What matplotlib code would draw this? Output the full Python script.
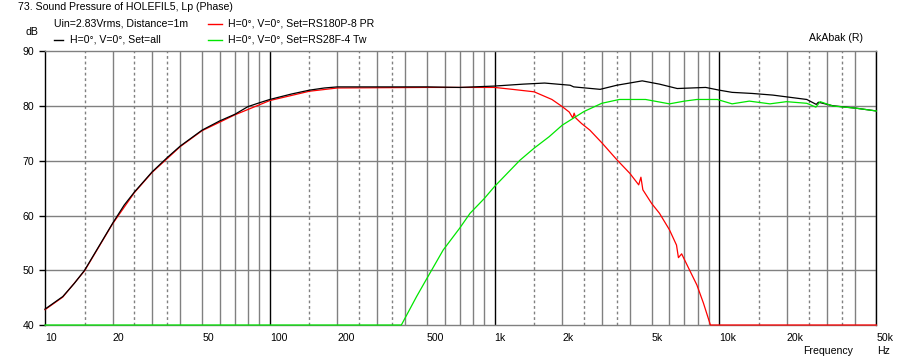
import numpy as np
import matplotlib
matplotlib.use('Agg')
import matplotlib.pyplot as plt

plt.rcParams['font.family'] = ['Liberation Sans', 'DejaVu Sans']
plt.rcParams['font.size'] = 7.6

# Set=all (black)
f_all = [10, 12, 13.5, 15, 17.5, 20, 22.5, 25, 30, 35, 40, 50, 60, 70, 80, 90, 100,
         125, 150, 175, 200, 300, 500, 700, 1000, 1340, 1670, 2170, 2250, 2950, 3500,
         4540, 5420, 6500, 8700, 10000, 11400, 14000, 17300, 24500, 27000, 27600,
         32000, 40700, 50000]
db_all = [42.9, 45.2, 47.6, 50.0, 54.6, 58.6, 61.9, 64.3, 68.0, 70.6, 72.7, 75.6, 77.3,
          78.5, 79.9, 80.6, 81.2, 82.2, 82.9, 83.3, 83.5, 83.5, 83.5, 83.4, 83.65, 84.0,
          84.2, 83.8, 83.5, 83.05, 83.8, 84.6, 84.0, 83.2, 83.4, 82.9, 82.5, 82.3, 82.0,
          81.2, 80.3, 80.7, 80.05, 79.6, 79.1]

# Set=RS180P-8 PR (red)
f_pr = [10, 12, 15, 20, 25, 30, 40, 50, 70, 100, 150, 200, 500, 900, 1000, 1200, 1500,
        1800, 2000, 2150, 2230, 2260, 2300, 2440, 2655, 3000, 3500, 4000, 4380, 4480,
        4570, 5000, 5420, 6000, 6450, 6580, 6800, 7300, 7950, 8500, 9130, 9500, 10000,
        20000, 50000]
db_pr = [42.8, 45.1, 49.9, 58.5, 64.2, 67.9, 72.6, 75.5, 78.4, 81.0, 82.7, 83.3, 83.4,
         83.4, 83.4, 83.05, 82.6, 81.2, 79.9, 78.9, 77.8, 78.7, 77.8, 76.8, 75.6, 73.3,
         70.2, 67.7, 65.6, 67.0, 64.7, 62.2, 60.4, 57.4, 54.6, 52.3, 53.0, 50.4, 47.3,
         44.0, 40.0, 37.5, 34.0, 20.0, 10.0]

# Set=RS28F-4 Tw (green)
f_tw = [10, 200, 385, 450, 500, 591, 700, 778, 900, 1000, 1297, 1500, 1750, 2000, 2500,
        3000, 3500, 3600, 4700, 6000, 7000, 7950, 9800, 11400, 13600, 16800, 19900,
        24500, 26900, 28100, 32000, 40700, 50000]
db_tw = [5.0, 28.0, 40.0, 45.2, 48.5, 53.7, 57.7, 60.4, 63.1, 65.3, 70.1, 72.3, 74.4,
         76.5, 79.0, 80.5, 81.1, 81.2, 81.2, 80.4, 80.9, 81.2, 81.2, 80.4, 80.9, 80.4,
         80.8, 80.5, 79.8, 80.8, 80.0, 79.6, 79.1]

xtick_vals = [10, 20, 50, 100, 200, 500, 1000, 2000, 5000, 10000, 20000, 50000]
xtick_labels = ['10', '20', '50', '100', '200', '500', '1k', '2k', '5k', '10k', '20k', '50k']
ytick_vals = [40, 50, 60, 70, 80, 90]

W, H = 899, 363
fig = plt.figure(figsize=(W / 100, H / 100), dpi=100)
ax = fig.add_axes([45 / W, 1 - 325 / H, (876.4 - 45) / W, (325 - 51.3) / H])
ax.set_xscale('log')
ax.set_xlim(10, 50000)
ax.set_ylim(40, 90)

grey = '#808080'
green = '#00e600'
# vertical grid
for dec in [10, 100, 1000, 10000]:
    for m in range(2, 10):
        ax.axvline(dec * m, color=grey, lw=1.0, zorder=1)
    for m in [1.5, 2.5, 3.5]:
        ax.axvline(dec * m, color=grey, lw=1.0, ls=(0, (2, 2)), zorder=1)
for dec in [100, 1000, 10000]:
    ax.axvline(dec, color='black', lw=1.0, zorder=1.5)
for y in [50, 60, 70, 80]:
    ax.axhline(y, color=grey, lw=1.0, zorder=1)

def clip(v):
    return np.clip(np.array(v), 40, 90)

ax.plot(f_pr, clip(db_pr), color='#ff0000', lw=0.9, zorder=3, clip_on=False)
ax.plot(f_all, clip(db_all), color='black', lw=0.9, zorder=4, clip_on=False)
ax.plot(f_tw, clip(db_tw), color=green, lw=0.9, zorder=5, clip_on=False)

for s in ['left', 'right']:
    ax.spines[s].set_color('black')
    ax.spines[s].set_linewidth(1.0)
for s in ['top', 'bottom']:
    ax.spines[s].set_color(grey)
    ax.spines[s].set_linewidth(1.0)

ax.set_xticks(xtick_vals)
ax.set_xticklabels(xtick_labels, ha='left')
ax.xaxis.set_minor_locator(matplotlib.ticker.NullLocator())
ax.tick_params(axis='x', length=0, pad=6)
ax.set_yticks(ytick_vals)
ax.tick_params(axis='y', length=4, width=1, color='black', pad=4)

fig.text(18 / W, 1 - 7 / H, '73. Sound Pressure of HOLEFIL5, Lp (Phase)', va='center', ha='left')
fig.text(54 / W, 1 - 24 / H, 'Uin=2.83Vrms, Distance=1m', va='center', ha='left')
fig.text(26 / W, 1 - 32 / H, 'dB', va='center', ha='left')
fig.text(863 / W, 1 - 38 / H, 'AkAbak (R)', va='center', ha='right')
fig.text(803 / W, 1 - 351 / H, 'Frequency', va='center', ha='left')
fig.text(877 / W, 1 - 351 / H, 'Hz', va='center', ha='left')

# (line start, line end, text x, y, colour, label)
legend = [(54, 63, 70, 40, 'black', 'H=0°, V=0°, Set=all'),
          (208, 222, 228, 24, '#ff0000', 'H=0°, V=0°, Set=RS180P-8 PR'),
          (208, 222, 228, 40, green, 'H=0°, V=0°, Set=RS28F-4 Tw')]
for x0, x1, xt, y0, c, lab in legend:
    fig.add_artist(plt.Line2D([x0 / W, x1 / W], [1 - y0 / H, 1 - y0 / H],
                              color=c, lw=1.0, transform=fig.transFigure))
    fig.text(xt / W, 1 - y0 / H, lab, va='center', ha='left')

fig.savefig('out.png', dpi=100)
